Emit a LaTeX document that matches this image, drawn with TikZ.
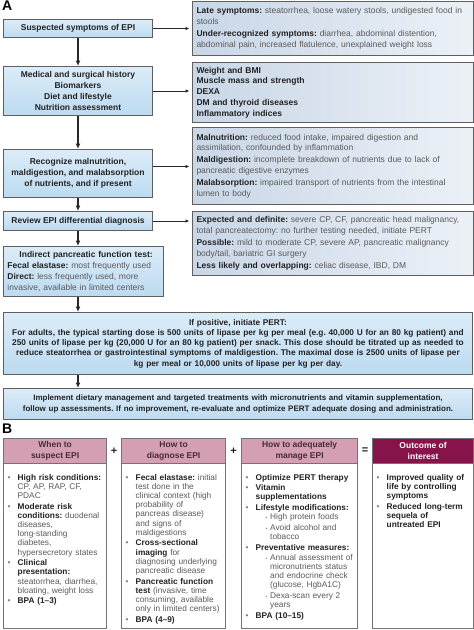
\documentclass[tikz,border=0pt]{standalone}
\usepackage{fontspec}
\setmainfont{Liberation Sans}
\usetikzlibrary{positioning,arrows.meta,calc}
\frenchspacing
\definecolor{epitop}{RGB}{220,236,248}
\definecolor{epiblue}{RGB}{188,218,240}
\definecolor{infoleft}{RGB}{200,214,230}
\definecolor{inforight}{RGB}{236,241,247}
\definecolor{epiframe}{RGB}{95,95,95}
\definecolor{epiarrow}{RGB}{40,40,40}
\definecolor{epitext}{RGB}{90,90,90}
\definecolor{epidark}{RGB}{35,35,35}
\definecolor{epidot}{RGB}{130,130,130}
\definecolor{bpink}{RGB}{212,158,180}
\definecolor{bmaroon}{RGB}{134,20,74}
\definecolor{bframe}{RGB}{115,115,115}
\definecolor{bheadtext}{RGB}{70,45,55}
\newcommand{\epifont}{\fontsize{8.5}{10.8}\selectfont}
\newcommand{\pertfont}{\fontsize{8.3}{10.3}\selectfont}
\newcommand{\implfont}{\fontsize{8.0}{10.3}\selectfont}
\newcommand{\lstfont}{\fontsize{8.3}{9.2}\selectfont}
\newcommand{\hd}[1]{\textcolor{epidark}{\textbf{#1}}}
\newcommand{\bitem}[1]{\par\hangindent=10pt\hangafter=1\noindent
    \makebox[10pt][l]{\textcolor{epidot}{\textbullet}}#1\par\vspace{1.4pt}}
\newcommand{\sitem}[1]{\par\hangindent=24.5pt\hangafter=1\noindent\hspace*{20pt}%
    \makebox[4.5pt][l]{\textcolor{epidot}{\fontsize{5}{5}\selectfont\textbullet}}#1\par\vspace{1.3pt}}
\tikzset{
    block/.style = {draw=epiframe, line width=1pt, rectangle,
        top color=epitop, bottom color=epiblue,
        minimum width=149pt, inner sep=3pt, align=center,
        font=\epifont\bfseries, text=epidark},
    info/.style = {draw=epiframe, line width=1pt, rectangle,
        left color=infoleft, right color=inforight,
        minimum width=281pt, text width=273pt, inner xsep=4pt, inner ysep=2pt,
        align=left, font=\epifont, text=epitext},
    wide/.style = {block, minimum width=469pt, text width=463pt, font=\pertfont\bfseries},
    varrow/.style = {draw=epiarrow, line width=1.4pt, -{Latex[length=5.5pt,width=5pt]}},
    harrow/.style = {draw=epiarrow, line width=0.8pt, -{Latex[length=4pt,width=3.5pt]}, shorten >=2.5pt},
    colframe/.style = {draw=bframe, line width=1.2pt, fill=white, minimum height=190pt, inner sep=0pt},
    colhead/.style = {draw=bframe, line width=1.2pt, fill=bpink, minimum height=25pt,
        inner sep=0pt, align=center, font=\epifont\bfseries, text=bheadtext},
    coltext/.style = {inner sep=0pt, align=left, font=\lstfont, text=epitext},
    op/.style = {font=\fontsize{11}{11}\selectfont\bfseries, text=epidark, inner sep=0pt},
    panel/.style = {font=\fontsize{14}{14}\selectfont\bfseries, inner sep=0pt, anchor=north west}
}
\begin{document}
\begin{tikzpicture}[x=1pt, y=-1pt]
    \useasboundingbox (0,0) rectangle (474,630);
    % panel A, left column
    \node [panel] (lblA) at (2,1) {A};
    \node [block, minimum height=18pt, anchor=north west] (symptoms) at (3,19) {Suspected symptoms of EPI};
    \node [block, minimum height=49pt, below=28pt of symptoms] (history) {Medical and surgical history\\Biomarkers\\Diet and lifestyle\\Nutrition assessment};
    \node [block, minimum height=48pt, below=33pt of history] (recognize) {Recognize malnutrition,\\maldigestion, and malabsorption\\of nutrients, and if present};
    \node [block, minimum height=19pt, below=13pt of recognize] (review) {Review EPI differential diagnosis};
    \node [block, minimum height=50pt, minimum width=160pt, text width=152pt, inner xsep=4pt,
        align=left, font=\epifont, text=epitext, below=15pt of review.south west, anchor=north west] (indirect)
        {\hspace*{12pt}\hd{Indirect pancreatic function test:}\\
         \hd{Fecal elastase:} most frequently used\\
         \hd{Direct:} less frequently used, more\\
         invasive, available in limited centers};
    \node [wide, minimum height=62pt, below=15pt of indirect.south west, anchor=north west] (pert)
        {If positive, initiate PERT:\\
         For adults, the typical starting dose is 500 units of lipase per kg per meal (e.g. 40,000 U for an 80 kg patient) and\\
         250 units of lipase per kg (20,000 U for an 80 kg patient) per snack. This dose should be titrated up as needed to\\
         reduce steatorrhea or gastrointestinal symptoms of maldigestion. The maximal dose is 2500 units of lipase per\\
         kg per meal or 10,000 units of lipase per kg per day.};
    \node [wide, minimum height=31pt, font=\implfont\bfseries, below=13pt of pert.south west, anchor=north west] (implement)
        {Implement dietary management and targeted treatments with micronutrients and vitamin supplementation,\\
         follow up assessments. If no improvement, re-evaluate and optimize PERT adequate dosing and administration.};
    % panel A, right column
    \node [info, minimum height=54pt, right=39pt of symptoms] (late)
        {\hd{Late symptoms:} steatorrhea, loose watery stools, undigested food in\\
         stools\\[1.2pt]
         \hd{Under-recognized symptoms:} diarrhea, abdominal distention,\\
         abdominal pain, increased flatulence, unexplained weight loss};
    \node [info, minimum height=60pt, right=39pt of history, yshift=-1.5pt, font=\epifont\bfseries, text=epidark] (weight)
        {Weight and BMI\\Muscle mass and strength\\DEXA\\DM and thyroid diseases\\Inflammatory indices};
    \node [info, minimum height=77pt, right=39pt of recognize, yshift=7.5pt] (malnutrition)
        {\hd{Malnutrition:} reduced food intake, impaired digestion and\\
         assimilation, confounded by inflammation\\[1.2pt]
         \hd{Maldigestion:} incomplete breakdown of nutrients due to lack of\\
         pancreatic digestive enzymes\\[1.2pt]
         \hd{Malabsorption:} impaired transport of nutrients from the intestinal\\
         lumen to body};
    \node [info, minimum height=64pt, right=39pt of review.north east, anchor=north west] (expected)
        {\hd{Expected and definite:} severe CP, CF, pancreatic head malignancy,\\
         total pancreatectomy: no further testing needed, initiate PERT\\[1.2pt]
         \hd{Possible:} mild to moderate CP, severe AP, pancreatic malignancy\\
         body/tail, bariatric GI surgery\\[1.2pt]
         \hd{Less likely and overlapping:} celiac disease, IBD, DM};
    % arrows
    \draw [harrow] (symptoms) -- (late);
    \draw [harrow] (history.east) -- (history.east -| weight.west);
    \draw [harrow] ([yshift=7pt]recognize.east) -- ([yshift=7pt]recognize.east -| malnutrition.west);
    \draw [harrow] (review.east) -- (review.east -| expected.west);
    \draw [varrow] (symptoms) -- (history);
    \draw [varrow] (history) -- (recognize);
    \draw [varrow] (recognize) -- (review);
    \draw [varrow] (review.south) -- (review.south |- indirect.north);
    \draw [varrow] (indirect.south -| review.south) -- (pert.north -| review.south);
    \draw [varrow] (pert.south -| review.south) -- (implement.north -| review.south);
    % panel B
    \node [panel] (lblB) at (2,424) {B};
    \node [colframe, minimum width=103pt, anchor=north west] (suspectbox) at (3,438) {};
    \node [colframe, minimum width=104pt, anchor=north west] (diagnosebox) at (121,438) {};
    \node [colframe, minimum width=116pt, anchor=north west] (managebox) at (241,438) {};
    \node [colframe, minimum width=101pt, anchor=north west] (outcomebox) at (372,438) {};
    \node [colhead, minimum width=103pt, anchor=north west] (suspect) at (3,438) {When to\\suspect EPI};
    \node [colhead, minimum width=104pt, anchor=north west] (diagnose) at (121,438) {How to\\diagnose EPI};
    \node [colhead, minimum width=116pt, anchor=north west] (manage) at (241,438) {How to adequately\\manage EPI};
    \node [colhead, minimum width=101pt, anchor=north west, fill=bmaroon, text=white] (outcome) at (372,438) {Outcome of\\interest};
    \node [op] (plusA) at ($(suspect.east)!0.5!(diagnose.west)$) {+};
    \node [op] (plusB) at ($(diagnose.east)!0.5!(manage.west)$) {+};
    \node [op] (equals) at ($(manage.east)!0.5!(outcome.west)$) {=};
    \node [coltext, text width=99pt, anchor=north west] (suspectlist) at ([shift={(4.5pt,-6.5pt)}]suspect.south west)
        {\bitem{\hd{High risk conditions:}\newline CP, AP, RAP, CF,\newline PDAC}
         \bitem{\hd{Moderate risk}\newline \hd{conditions:} duodenal\newline diseases,\newline long-standing\newline diabetes,\newline hypersecretory states}
         \bitem{\hd{Clinical}\newline \hd{presentation:}\newline steatorrhea, diarrhea,\newline bloating, weight loss}
         \bitem{\hd{BPA (1--3)}}};
    \node [coltext, text width=100pt, anchor=north west] (diagnoselist) at ([shift={(4.5pt,-6.5pt)}]diagnose.south west)
        {\bitem{\hd{Fecal elastase:} initial\newline test done in the\newline clinical context (high\newline probability of\newline pancreas disease)\newline and signs of\newline maldigestions}
         \bitem{\hd{Cross-sectional}\newline \hd{imaging} for\newline diagnosing underlying\newline pancreatic disease}
         \bitem{\hd{Pancreatic function}\newline \hd{test} (invasive, time\newline consuming, available\newline only in limited centers)}
         \bitem{\hd{BPA (4--9)}}};
    \node [coltext, text width=113pt, anchor=north west] (managelist) at ([shift={(4.5pt,-6.5pt)}]manage.south west)
        {\bitem{\hd{Optimize PERT therapy}}
         \bitem{\hd{Vitamin}\newline \hd{supplementations}}
         \bitem{\hd{Lifestyle modifications:}}\vspace{-1.4pt}
         \sitem{High protein foods}
         \sitem{Avoid alcohol and\newline tobacco}\vspace{1pt}
         \bitem{\hd{Preventative measures:}}\vspace{-1.4pt}
         \sitem{Annual assessment of\newline micronutrients status\newline and endocrine check\newline (glucose, HgbA1C)}
         \sitem{Dexa-scan every 2\newline years}\vspace{1pt}
         \bitem{\hd{BPA (10--15)}}};
    \node [coltext, text width=97pt, anchor=north west] (outcomelist) at ([shift={(4.5pt,-6.5pt)}]outcome.south west)
        {\bitem{\hd{Improved quality of}\newline \hd{life by controlling}\newline \hd{symptoms}}
         \bitem{\hd{Reduced long-term}\newline \hd{sequela of}\newline \hd{untreated EPI}}};
\end{tikzpicture}
\end{document}
